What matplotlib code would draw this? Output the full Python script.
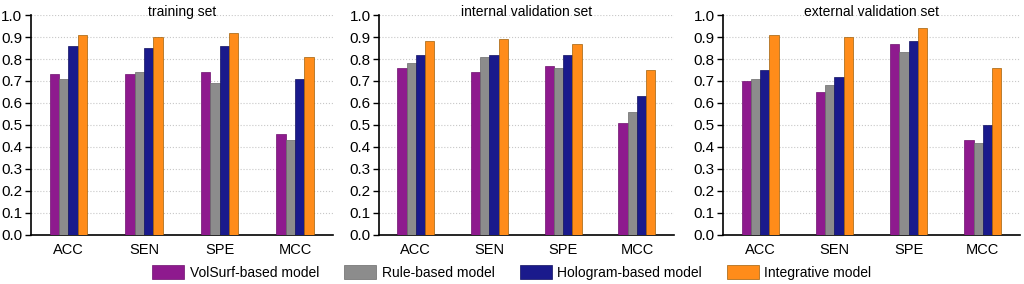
import numpy as np
import matplotlib.pyplot as plt

plt.rcParams['font.family'] = ['Liberation Sans', 'DejaVu Sans']

metrics = ['ACC', 'SEN', 'SPE', 'MCC']
models = ['VolSurf-based model', 'Rule-based model', 'Hologram-based model', 'Integrative model']
colors = ['#8e1a8e', '#8c8c8c', '#1a1a8c', '#ff8c1a']
edges = ['#6e106e', '#6a6a6a', '#101060', '#a0600a']

titles = ['training set', 'internal validation set', 'external validation set']

# rows = models, columns = ACC, SEN, SPE, MCC
training = [
    [0.73, 0.73, 0.74, 0.46],
    [0.71, 0.74, 0.69, 0.43],
    [0.86, 0.85, 0.86, 0.71],
    [0.91, 0.90, 0.92, 0.81],
]
internal = [
    [0.76, 0.74, 0.77, 0.51],
    [0.78, 0.81, 0.76, 0.56],
    [0.82, 0.82, 0.82, 0.63],
    [0.88, 0.89, 0.87, 0.75],
]
external = [
    [0.70, 0.65, 0.87, 0.43],
    [0.71, 0.68, 0.83, 0.42],
    [0.75, 0.72, 0.88, 0.50],
    [0.91, 0.90, 0.94, 0.76],
]
datasets = [training, internal, external]

fig = plt.figure(figsize=(10.24, 2.84), dpi=100)
boxes = [[0.030, 0.173, 0.295, 0.774],
         [0.370, 0.173, 0.288, 0.774],
         [0.706, 0.173, 0.290, 0.774]]

x = np.arange(len(metrics))
w = 0.125
handles = []
for box, title, data in zip(boxes, titles, datasets):
    ax = fig.add_axes(box)
    for i in range(len(models)):
        b = ax.bar(x + (i - 1.5) * w, data[i], w, color=colors[i],
                   edgecolor=edges[i], linewidth=0.5, zorder=3)
        if len(handles) < len(models):
            handles.append(b)
    ax.set_xlim(-0.5, 3.5)
    ax.set_ylim(0, 1.0)
    ax.set_yticks(np.arange(0, 1.01, 0.1))
    ax.set_yticklabels(['%.1f' % v for v in np.arange(0, 1.01, 0.1)])
    ax.set_xticks(x)
    ax.set_xticklabels(metrics)
    ax.tick_params(axis='y', labelsize=11, length=4, width=1, pad=2)
    ax.tick_params(axis='x', labelsize=10.5, length=0, pad=6)
    ax.grid(axis='y', linestyle=':', color='#c8c8c8', linewidth=0.8, zorder=0)
    ax.spines['top'].set_visible(False)
    ax.spines['right'].set_visible(False)
    ax.spines['left'].set_linewidth(1.2)
    ax.spines['bottom'].set_linewidth(1.2)
    ax.text(0.5, 1.015, title, transform=ax.transAxes, ha='center', va='center', fontsize=10)

fig.legend(handles, models, loc='center', bbox_to_anchor=(0.5, 0.04), ncol=4,
           frameon=False, fontsize=10, handlelength=2.3, handleheight=1.1,
           handletextpad=0.4, columnspacing=1.8)

fig.savefig('out.png', dpi=100)
